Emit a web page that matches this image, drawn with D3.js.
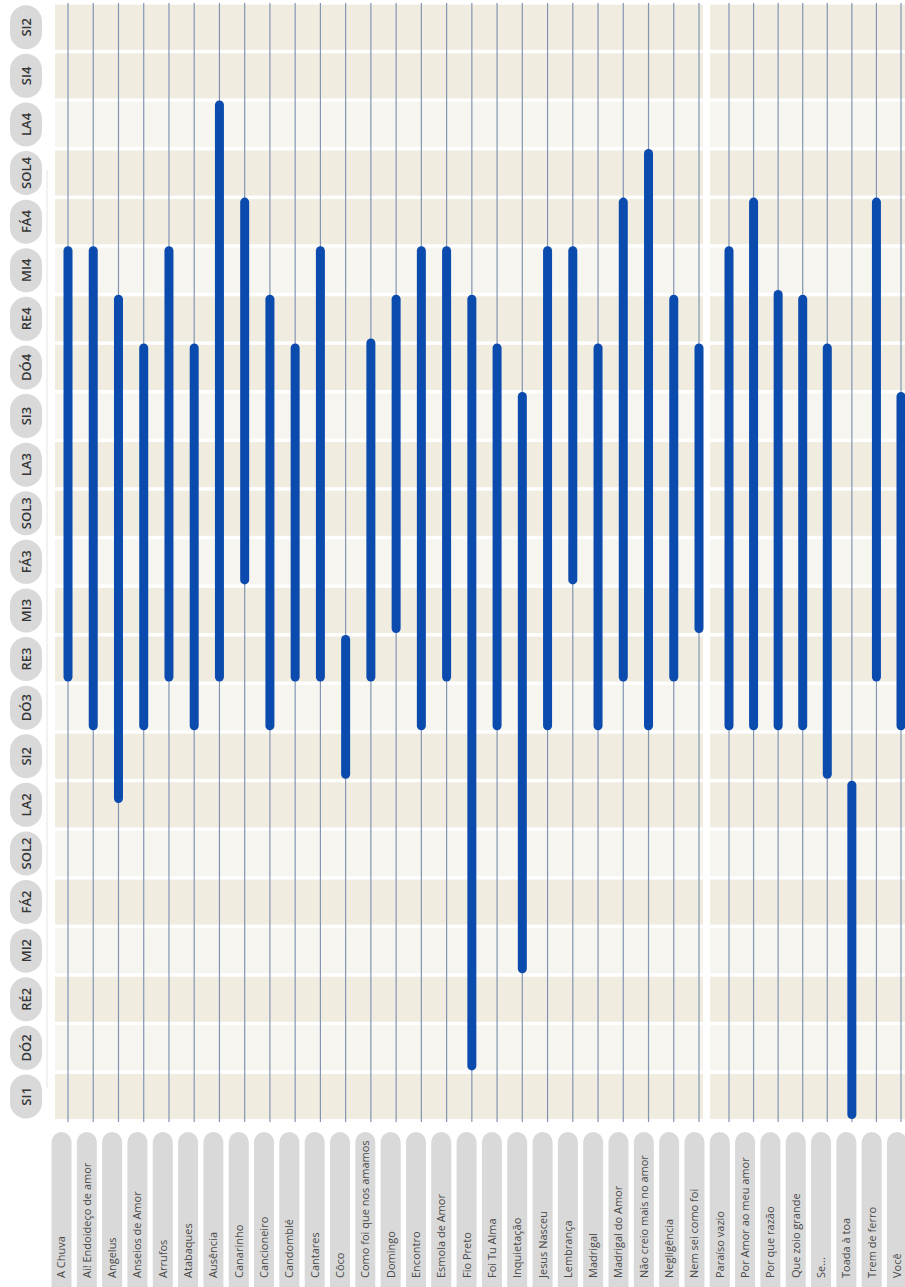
<!DOCTYPE html>
<html>
<head>
<meta charset="utf-8">
<script src="https://cdn.jsdelivr.net/npm/d3@7"></script>
<style>
  body { margin: 0; background: #fff; }
  svg { display: block; }
</style>
</head>
<body>
<svg width="905" height="1287"></svg>
<script>
// note rows, listed top to bottom as printed
var notes = ["SI2", "SI4", "LA4", "SOL4", "FÁ4", "MI4", "RE4", "DÓ4", "SI3", "LA3", "SOL3", "FÁ3",
             "MI3", "RE3", "DÓ3", "SI2", "LA2", "SOL2", "FÁ2", "MI2", "RÉ2", "DÓ2", "SI1"];

var songs = ["A Chuva", "Ai! Endoideço de amor", "Angelus", "Anseios de Amor", "Arrufos", "Atabaques",
             "Ausência", "Canarinho", "Cancioneiro", "Candomblé", "Cantares", "Côco",
             "Como foi que nos amamos", "Domingo", "Encontro", "Esmola de Amor", "Fio Preto",
             "Foi Tu Alma", "Inquietação", "Jesus Nasceu", "Lembrança", "Madrigal",
             "Madrigal do Amor", "Não creio mais no amor", "Negligência", "Nem sei como foi",
             "Paraíso vazio", "Por Amor ao meu amor", "Por que razão", "Que zoio grande",
             "Se...", "Toada à toa", "Trem de ferro", "Você"];

// range of each song, as row numbers counted from the bottom row (SI1 = 0)
var lowNote  = [9, 8, 6.5, 8, 9, 8, 9, 11, 8, 9, 9, 7, 9, 10, 8, 9, 1, 8, 3, 8, 11, 8, 9, 8, 9, 10,
                8, 8, 8, 8, 7, 0, 9, 8];
var highNote = [17, 17, 16, 15, 17, 15, 20, 18, 16, 15, 17, 9, 15.1, 16, 17, 17, 16, 15, 14, 17, 17,
                15, 18, 19, 16, 15, 17, 18, 16.1, 16, 15, 6, 18, 14];

// rows drawn in the lighter shade (counted from the bottom)
var lightRows = [1, 3, 5, 8, 11, 14, 17, 20];

var splitAt = 26; // first song of the right-hand block

var svg = d3.select("svg");
var nRows = notes.length;

var y = d3.scaleLinear().domain([0, nRows]).range([1119, 1119 - 48.6 * nRows]);

var xLeft = d3.scalePoint().domain(songs.slice(0, splitAt)).range([68, 699]);
var xRight = d3.scalePoint().domain(songs.slice(splitAt)).range([729, 901]);
function xPos(name, i) { return i < splitAt ? xLeft(name) : xRight(name); }

var xLabel = d3.scalePoint().domain(songs).range([61.5, 897]);

var rows = d3.range(nRows); // 0 = bottom
var blocks = [{x0: 55, x1: 703}, {x0: 710, x1: 905}];

// background bands
blocks.forEach(function (b) {
  svg.append("g").selectAll("rect")
    .data(rows)
    .enter()
    .append("rect")
      .attr("x", b.x0)
      .attr("width", b.x1 - b.x0)
      .attr("y", function (k) { return y(k + 1) + 3.5; })
      .attr("height", function (k) { return y(k) - y(k + 1) - 3.5; })
      .attr("fill", function (k) { return lightRows.indexOf(k) >= 0 ? "#f6f5f0" : "#f0ece0"; });
});

// faint guide on the left
svg.append("line")
  .attr("x1", 47).attr("x2", 47)
  .attr("y1", 170).attr("y2", 1088)
  .attr("stroke", "#e4e4e4").attr("stroke-width", 1);

// row labels
var rowLab = svg.append("g").selectAll("g")
  .data(rows)
  .enter()
  .append("g")
    .attr("transform", function (k) {
      return "translate(26," + ((y(k) + y(k + 1) + 3.5) / 2) + ")";
    });

rowLab.append("rect")
  .attr("x", -16).attr("y", -22)
  .attr("width", 32).attr("height", 44)
  .attr("rx", 16)
  .attr("fill", "#d9d9d9");

rowLab.append("text")
  .attr("transform", "rotate(-90)")
  .attr("text-anchor", "middle")
  .attr("dy", "0.36em")
  .attr("font-family", "Open Sans, sans-serif")
  .attr("font-weight", 600)
  .attr("font-size", 13)
  .attr("fill", "#363636")
  .text(function (k) { return notes[nRows - 1 - k]; });

// thin string lines
svg.append("g").selectAll("line")
  .data(songs)
  .enter()
  .append("line")
    .attr("x1", function (d, i) { return xPos(d, i); })
    .attr("x2", function (d, i) { return xPos(d, i); })
    .attr("y1", 3)
    .attr("y2", y(0) + 3)
    .attr("stroke", "#8395b2")
    .attr("stroke-width", 1.2);

// range bars
svg.append("g").selectAll("rect")
  .data(songs)
  .enter()
  .append("rect")
    .attr("x", function (d, i) { return xPos(d, i) - 4.5; })
    .attr("width", 9)
    .attr("y", function (d, i) { return y(highNote[i] + 1) + 2; })
    .attr("height", function (d, i) { return y(lowNote[i]) - y(highNote[i] + 1) - 2; })
    .attr("rx", 4.5)
    .attr("fill", "#0b4bae");

// song labels
var songLab = svg.append("g").selectAll("g")
  .data(songs)
  .enter()
  .append("g")
    .attr("transform", function (d) { return "translate(" + xLabel(d) + ",0)"; });

songLab.append("rect")
  .attr("x", -10).attr("y", 1132)
  .attr("width", 20).attr("height", 180)
  .attr("rx", 10)
  .attr("fill", "#d9d9d9");

songLab.append("text")
  .attr("transform", "translate(0,1278) rotate(-90)")
  .attr("dy", "0.36em")
  .attr("font-family", "Open Sans, sans-serif")
  .attr("font-size", 11)
  .attr("fill", "#4a4a4a")
  .text(function (d) { return d; });
</script>
</body>
</html>
